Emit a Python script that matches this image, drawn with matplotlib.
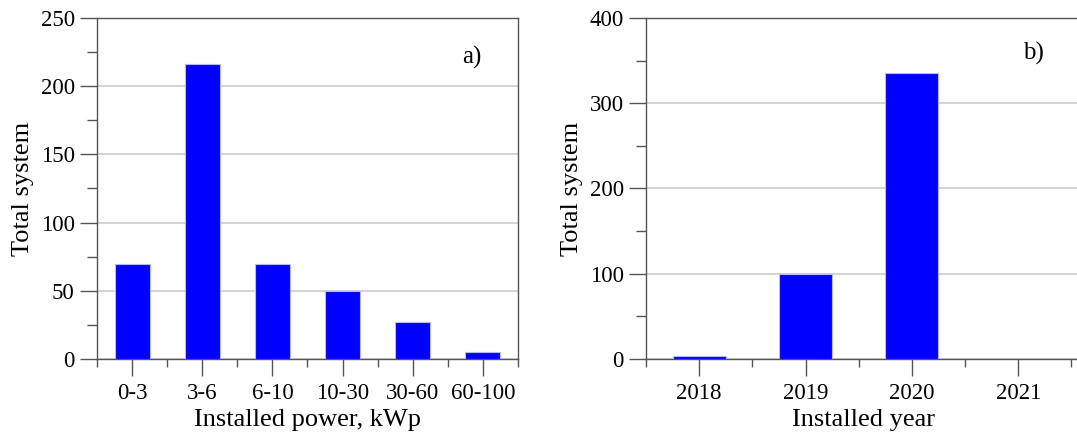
import matplotlib
matplotlib.use("Agg")
import matplotlib.pyplot as plt
from matplotlib.ticker import MultipleLocator, FixedLocator

plt.rcParams['font.family'] = ['Liberation Serif', 'DejaVu Serif']

# Panel a: systems by installed power range
power_bins = ["0-3", "3-6", "6-10", "10-30", "30-60", "60-100"]
power_counts = [70, 216, 70, 50, 27, 5]

# Panel b: systems by installation year
years = ["2018", "2019", "2020", "2021"]
year_counts = [3, 100, 336, 0]

W, H = 1077, 436
fig = plt.figure(figsize=(W / 100, H / 100), dpi=100)

BAR_COLOR = "#0000FF"
AX_COLOR = "#555555"
GRID_COLOR = "#c8c8c8"
TICK_FS = 16.5
LABEL_FS = 19


def px_axes(left, right, top, bottom):
    return fig.add_axes([left / W, (H - bottom) / H, (right - left) / W, (bottom - top) / H])


def style_axes(ax, n, ymax, ymajor, xmax):
    ax.set_xlim(-0.5, xmax)
    ax.set_ylim(0, ymax)
    ax.yaxis.set_major_locator(MultipleLocator(ymajor))
    ax.yaxis.set_minor_locator(MultipleLocator(ymajor / 2))
    ax.xaxis.set_minor_locator(FixedLocator([i - 0.5 for i in range(n + 1)]))
    ax.grid(axis="y", which="major", color=GRID_COLOR, linewidth=1.1, zorder=0)
    ax.set_axisbelow(True)
    for s in ax.spines.values():
        s.set_color(AX_COLOR)
        s.set_linewidth(1.0)
    ax.tick_params(axis="both", which="major", direction="out", color=AX_COLOR,
                   labelsize=TICK_FS, width=1.0)
    ax.tick_params(axis="y", which="major", length=12, pad=4)
    ax.tick_params(axis="y", which="minor", length=7, color=AX_COLOR, width=1.0)
    ax.tick_params(axis="x", which="major", length=12, pad=5)
    ax.tick_params(axis="x", which="minor", length=6, color=AX_COLOR, width=1.0)


# Panel a
ax1 = px_axes(97, 518, 18, 359)
x1 = range(len(power_bins))
ax1.bar(x1, power_counts, width=0.5, color=BAR_COLOR, edgecolor="#b8b8ff",
        linewidth=0.8, zorder=3)
ax1.set_xticks(list(x1))
ax1.set_xticklabels(power_bins)
style_axes(ax1, len(power_bins), 250, 50, 5.5)
ax1.set_ylabel("Total system", fontsize=LABEL_FS, labelpad=5)
ax1.set_xlabel("Installed power, kWp", fontsize=LABEL_FS, labelpad=4)
ax1.text(0.89, 0.885, "a)", transform=ax1.transAxes, fontsize=18,
         ha="center", va="center")

# Panel b
ax2 = px_axes(646, 1082, 18, 359)
x2 = range(len(years))
ax2.bar(x2, year_counts, width=0.5, color=BAR_COLOR, edgecolor="#b8b8ff",
        linewidth=0.8, zorder=3)
ax2.set_xticks(list(x2))
ax2.set_xticklabels(years)
style_axes(ax2, len(years), 400, 100, 3.6)
ax2.set_ylabel("Total system", fontsize=LABEL_FS, labelpad=5)
ax2.set_xlabel("Installed year", fontsize=LABEL_FS, labelpad=4)
ax2.text(3.14, 358, "b)", fontsize=18, ha="center", va="center")

fig.savefig("out.png", dpi=100)
